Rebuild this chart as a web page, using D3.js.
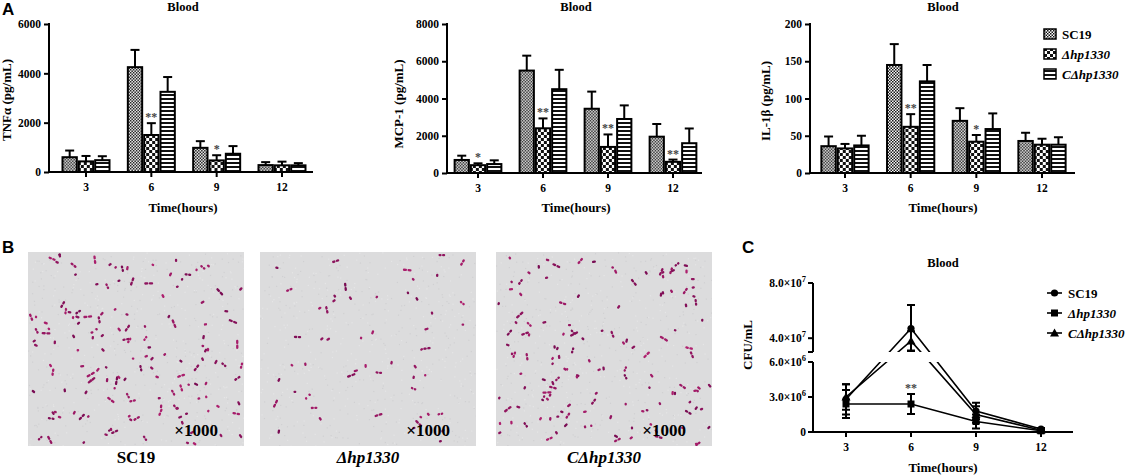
<!DOCTYPE html>
<html><head><meta charset="utf-8">
<script src="https://cdn.jsdelivr.net/npm/d3@7/dist/d3.min.js"></script>
<style>
body{margin:0;background:#fff;}
svg text{font-family:"Liberation Serif","Times New Roman",Times,serif;font-weight:bold;fill:#000;}
svg text.panel{font-family:"Liberation Sans",Arial,sans-serif;font-weight:bold;font-size:17px;}
</style></head>
<body><svg id="fig" width="1135" height="476" font-family="Liberation Serif, serif"></svg>
<script>
// ---------- data ----------
const categories = ["3", "6", "9", "12"];
const seriesNames = ["SC19", "Δhp1330", "CΔhp1330"];

const tnfTicks = [0, 2000, 4000, 6000];
const tnfSC19 = [600, 4250, 980, 280];
const tnfSC19Err = [270, 700, 270, 120];
const tnfDelta = [430, 1500, 470, 270];
const tnfDeltaErr = [220, 480, 210, 150];
const tnfComp = [480, 3250, 740, 270];
const tnfCompErr = [160, 600, 310, 90];
const tnfStars = ["", "**", "*", ""];

const mcpTicks = [0, 2000, 4000, 6000, 8000];
const mcpSC19 = [700, 5500, 3450, 1950];
const mcpSC19Err = [230, 800, 920, 680];
const mcpDelta = [420, 2400, 1400, 600];
const mcpDeltaErr = [100, 530, 670, 120];
const mcpComp = [480, 4500, 2900, 1600];
const mcpCompErr = [200, 1040, 730, 790];
const mcpStars = ["*", "**", "**", "**"];

const ilTicks = [0, 50, 100, 150, 200];
const ilSC19 = [36, 145, 70, 43];
const ilSC19Err = [13, 28, 17, 11];
const ilDelta = [33, 62, 42, 38];
const ilDeltaErr = [6, 17, 9, 8];
const ilComp = [37, 123, 59, 38];
const ilCompErr = [13, 22, 21, 10];
const ilStars = ["", "**", "*", ""];

const cfuSC19 = [2.8e6, 4.7e7, 1.8e6, 2.5e5];
const cfuSC19Err = [1.3e6, 1.7e7, 0.7e6, 1.0e5];
const cfuDelta = [2.4e6, 2.4e6, 0.9e6, 1.0e5];
const cfuDeltaErr = [1.2e6, 0.85e6, 0.6e6, 0.5e5];
const cfuComp = [3.0e6, 3.8e7, 1.5e6, 1.5e5];
const cfuCompErr = [1.1e6, 0.7e7, 0.7e6, 0.8e5];
const cfuStars = ["", "**", "", ""];
const cfuLowTicks = [0, 3e6, 6e6];
const cfuLowLabels = [["0", ""], ["3.0×10", "6"], ["6.0×10", "6"]];
const cfuHighTicks = [4e7, 8e7];
const cfuHighLabels = [["4.0×10", "7"], ["8.0×10", "7"]];

const imageLabels = ["SC19", "Δhp1330", "CΔhp1330"];
const cellCounts = [150, 55, 140];
const magnification = "×1000";

// ---------- drawing ----------
const SERIF = '"Liberation Serif","Times New Roman",Times,serif';
const svg = d3.select("#fig");
const defs = svg.append("defs");

const p1 = defs.append("pattern").attr("id", "pSC19").attr("patternUnits", "userSpaceOnUse").attr("width", 3).attr("height", 3);
p1.append("rect").attr("width", 3).attr("height", 3).attr("fill", "#fff");
p1.append("rect").attr("width", 1.5).attr("height", 1.5).attr("fill", "#111");
p1.append("rect").attr("x", 1.5).attr("y", 1.5).attr("width", 1.5).attr("height", 1.5).attr("fill", "#111");
const p2 = defs.append("pattern").attr("id", "pDelta").attr("patternUnits", "userSpaceOnUse").attr("width", 6).attr("height", 6);
p2.append("rect").attr("width", 6).attr("height", 6).attr("fill", "#fff");
p2.append("rect").attr("width", 3).attr("height", 3).attr("fill", "#111");
p2.append("rect").attr("x", 3).attr("y", 3).attr("width", 3).attr("height", 3).attr("fill", "#111");
const p3 = defs.append("pattern").attr("id", "pComp").attr("patternUnits", "userSpaceOnUse").attr("width", 4).attr("height", 4);
p3.append("rect").attr("width", 4).attr("height", 4).attr("fill", "#fff");
p3.append("rect").attr("y", 2).attr("width", 4).attr("height", 2).attr("fill", "#111");
const fills = ["url(#pSC19)", "url(#pDelta)", "url(#pComp)"];

function barChart(cfg) {
  const g = svg.append("g");
  const step = (cfg.cLast - cfg.cFirst) / 3;
  const x = d3.scaleBand().domain(categories)
    .range([cfg.cFirst - step / 2, cfg.cLast + step / 2]).paddingInner(0.25).paddingOuter(0.125);
  const xs = d3.scaleBand().domain(seriesNames).range([0, x.bandwidth()]);
  const y = d3.scaleLinear().domain([0, d3.max(cfg.ticks)]).range([cfg.y0, cfg.yTop]);

  cfg.means.forEach((arr, si) => {
    const errs = cfg.errs[si];
    const sg = g.append("g");
    const bars = sg.selectAll("g").data(categories).join("g")
      .attr("transform", c => `translate(${x(c) + xs(seriesNames[si])},0)`);
    bars.append("line")
      .attr("x1", xs.bandwidth() / 2).attr("x2", xs.bandwidth() / 2)
      .attr("y1", (c, i) => y(arr[i])).attr("y2", (c, i) => y(arr[i] + errs[i]))
      .attr("stroke", "#000").attr("stroke-width", 2);
    bars.append("line")
      .attr("x1", xs.bandwidth() / 2 - 4.5).attr("x2", xs.bandwidth() / 2 + 4.5)
      .attr("y1", (c, i) => y(arr[i] + errs[i])).attr("y2", (c, i) => y(arr[i] + errs[i]))
      .attr("stroke", "#000").attr("stroke-width", 2);
    bars.append("rect")
      .attr("x", 1).attr("width", xs.bandwidth() - 2)
      .attr("y", (c, i) => y(arr[i])).attr("height", (c, i) => y(0) - y(arr[i]))
      .attr("fill", fills[si]).attr("stroke", "#000").attr("stroke-width", 2);
    if (si === 1) {
      bars.append("text").attr("text-anchor", "middle")
        .attr("x", xs.bandwidth() / 2)
        .attr("y", (c, i) => y(arr[i] + errs[i]) - 2)
        .style("font-size", "12px").style("font-weight", "bold").style("fill", "#444")
        .text((c, i) => cfg.stars[i]);
    }
  });

  const ya = g.append("g").attr("transform", `translate(${cfg.axisX},0)`)
    .call(d3.axisLeft(y).tickValues(cfg.ticks).tickSize(5).tickSizeOuter(0).tickPadding(3).tickFormat(d3.format("d")));
  ya.attr("font-family", SERIF);
  ya.select(".domain").remove();
  ya.selectAll("line").attr("stroke-width", 2);
  ya.selectAll("text").style("font-size", "11.5px").style("font-family", SERIF).style("font-weight", "bold");
  g.append("line").attr("x1", cfg.axisX).attr("x2", cfg.axisX).attr("y1", cfg.yTop - 1).attr("y2", cfg.y0 + 1)
    .attr("stroke", "#000").attr("stroke-width", 2);

  const xa = g.append("g").attr("transform", `translate(0,${cfg.y0})`)
    .call(d3.axisBottom(x).tickSize(5).tickSizeOuter(0).tickPadding(6));
  xa.attr("font-family", SERIF);
  xa.select(".domain").remove();
  xa.selectAll("line").attr("stroke-width", 2);
  xa.selectAll("text").style("font-size", "11.5px").style("font-family", SERIF).style("font-weight", "bold");
  g.append("line").attr("x1", cfg.axisX - 1).attr("x2", cfg.axisEnd).attr("y1", cfg.y0).attr("y2", cfg.y0)
    .attr("stroke", "#000").attr("stroke-width", 2);

  g.append("text").attr("x", cfg.titleX).attr("y", 11).attr("text-anchor", "middle").style("font-size", "12.5px").text("Blood");
  g.append("text").attr("x", cfg.titleX).attr("y", 212).attr("text-anchor", "middle").style("font-size", "13px").text("Time(hours)");
  g.append("text").attr("transform", `translate(${cfg.ylabX},${cfg.ylabY}) rotate(-90)`)
    .attr("text-anchor", "middle").style("font-size", "13px").text(cfg.ylabel);
}

barChart({axisX: 49, axisEnd: 313, yTop: 24, y0: 172, cFirst: 86, cLast: 282, ticks: tnfTicks,
  means: [tnfSC19, tnfDelta, tnfComp], errs: [tnfSC19Err, tnfDeltaErr, tnfCompErr], stars: tnfStars,
  ylabel: "TNFα (pg/mL)", ylabX: 11, ylabY: 100, titleX: 183});
barChart({axisX: 447, axisEnd: 702, yTop: 24, y0: 173, cFirst: 478, cLast: 673, ticks: mcpTicks,
  means: [mcpSC19, mcpDelta, mcpComp], errs: [mcpSC19Err, mcpDeltaErr, mcpCompErr], stars: mcpStars,
  ylabel: "MCP-1 (pg/mL)", ylabX: 403, ylabY: 104, titleX: 576});
barChart({axisX: 810, axisEnd: 1075, yTop: 24, y0: 173, cFirst: 845, cLast: 1042, ticks: ilTicks,
  means: [ilSC19, ilDelta, ilComp], errs: [ilSC19Err, ilDeltaErr, ilCompErr], stars: ilStars,
  ylabel: "IL-1β (pg/mL)", ylabX: 770, ylabY: 101, titleX: 943});

const legA = svg.append("g");
seriesNames.forEach((s, i) => {
  const yy = 34 + i * 20;
  legA.append("rect").attr("x", 1044).attr("y", yy - 5).attr("width", 12).attr("height", 10)
    .attr("fill", fills[i]).attr("stroke", "#000").attr("stroke-width", 1.5);
  legA.append("text").attr("x", 1062).attr("y", yy + 4.5).style("font-size", "13px")
    .style("font-style", i === 0 ? "normal" : "italic").text(s);
});

svg.append("text").attr("class", "panel").attr("x", 2).attr("y", 15).text("A");
svg.append("text").attr("class", "panel").attr("x", 2).attr("y", 253).text("B");
svg.append("text").attr("class", "panel").attr("x", 742).attr("y", 253).text("C");

// ---------- panel B micrographs ----------
const imgX = [28, 260, 496];
const imgY = 252, imgW = 216, imgH = 194;
imageLabels.forEach((lab, k) => {
  const g = svg.append("g");
  const cid = "clipImg" + k;
  defs.append("clipPath").attr("id", cid).append("rect")
    .attr("x", imgX[k]).attr("y", imgY).attr("width", imgW).attr("height", imgH);
  g.append("rect").attr("x", imgX[k]).attr("y", imgY).attr("width", imgW).attr("height", imgH).attr("fill", "#dcdcdd");
  const cells = g.append("g").attr("clip-path", `url(#${cid})`);
  const rng = d3.randomLcg(0.137 + k * 0.291);
  for (let i = 0; i < 600; i++) {
    cells.append("rect").attr("x", imgX[k] + rng() * imgW).attr("y", imgY + rng() * imgH)
      .attr("width", 1.2).attr("height", 1.2).attr("fill", rng() < 0.5 ? "#d0d0d2" : "#e5e5e6");
  }
  const col = d3.interpolateRgb("#780b52", "#b0206f");
  for (let i = 0; i < cellCounts[k]; i++) {
    const cx = imgX[k] + 2 + rng() * (imgW - 4);
    const cy = imgY + 2 + rng() * (imgH - 4);
    const ang = rng() * 180;
    const len = 2.6 + rng() * 1.8;
    const c = col(rng());
    const n = rng() < 0.3 ? 2 : 1;
    for (let j = 0; j < n; j++) {
      cells.append("rect").attr("x", -len / 2 + j * (len + 0.4)).attr("y", -1.15)
        .attr("width", len).attr("height", 2.3).attr("rx", 1.1)
        .attr("fill", c)
        .attr("transform", `translate(${cx},${cy}) rotate(${ang})`);
    }
  }
  g.append("text").attr("x", imgX[k] + imgW - 26).attr("y", imgY + 184).attr("text-anchor", "end")
    .style("font-size", "17px").text(magnification);
  g.append("text").attr("x", imgX[k] + imgW / 2).attr("y", 463).attr("text-anchor", "middle")
    .style("font-size", "17px").style("font-style", k === 0 ? "normal" : "italic").text(lab);
});

// ---------- panel C ----------
const gc = svg.append("g");
const cx0 = 813, cxEnd = 1073, cy0 = 432;
const xC = d3.scalePoint().domain(categories).range([846, 1041]);
const yLow = d3.scaleLinear().domain([0, 6e6]).range([cy0, 362]);
const yHigh = d3.scaleLinear().domain([3e7, 8e7]).range([352, 283]);
const yC = v => v <= 6e6 ? yLow(v) : (v >= 3e7 ? yHigh(v) : yLow(6e6) - (v - 6e6) / (3e7 - 6e6) * 10);

const clipC = defs.append("clipPath").attr("id", "clipC");
clipC.append("rect").attr("x", 800).attr("y", 270).attr("width", 300).attr("height", 82);
clipC.append("rect").attr("x", 800).attr("y", 362).attr("width", 300).attr("height", 80);

const cfuMeans = [cfuSC19, cfuDelta, cfuComp];
const cfuErrs = [cfuSC19Err, cfuDeltaErr, cfuCompErr];
const line = d3.line().x((d, i) => xC(categories[i])).y(d => yC(d));
const lines = gc.append("g").attr("clip-path", "url(#clipC)");
cfuMeans.forEach((arr, si) => {
  lines.append("path").attr("d", line(arr)).attr("fill", "none").attr("stroke", "#000").attr("stroke-width", 1.6);
  const errs = cfuErrs[si];
  arr.forEach((v, i) => {
    const xx = xC(categories[i]);
    const lo = Math.max(v - errs[i], 0), hi = v + errs[i];
    lines.append("line").attr("x1", xx).attr("x2", xx).attr("y1", yC(lo)).attr("y2", yC(hi)).attr("stroke", "#000").attr("stroke-width", 2);
    [lo, hi].forEach(e => lines.append("line").attr("x1", xx - 4).attr("x2", xx + 4).attr("y1", yC(e)).attr("y2", yC(e)).attr("stroke", "#000").attr("stroke-width", 2));
  });
});
function marker(g, si, x, y) {
  if (si === 0) g.append("circle").attr("cx", x).attr("cy", y).attr("r", 3.6).attr("fill", "#000");
  else if (si === 1) g.append("rect").attr("x", x - 3.5).attr("y", y - 3.5).attr("width", 7).attr("height", 7).attr("fill", "#000");
  else g.append("path").attr("d", `M${x},${y - 4.5}L${x + 4.5},${y + 3.5}L${x - 4.5},${y + 3.5}Z`).attr("fill", "#000");
}
cfuMeans.forEach((arr, si) => arr.forEach((v, i) => marker(lines, si, xC(categories[i]), yC(v))));
cfuStars.forEach((s, i) => {
  if (!s) return;
  const v = cfuDelta[i] + cfuDeltaErr[i];
  gc.append("text").attr("x", xC(categories[i])).attr("y", yC(v) - 2).attr("text-anchor", "middle")
    .style("font-size", "12px").style("fill", "#444").text(s);
});

const ax = (x1, y1, x2, y2) => gc.append("line").attr("x1", x1).attr("y1", y1).attr("x2", x2).attr("y2", y2).attr("stroke", "#000").attr("stroke-width", 2);
ax(cx0, 283, cx0, 352);
ax(cx0, 362, cx0, cy0 + 1);
ax(cx0 - 1, cy0, cxEnd, cy0);
ax(cx0 - 5, 352, cx0, 352);
function yTickLabel(yy, lab) {
  ax(cx0 - 5, yy, cx0, yy);
  const t = gc.append("text").attr("x", cx0 - 7).attr("y", yy + 4).attr("text-anchor", "end").style("font-size", "11.5px");
  t.append("tspan").text(lab[0]);
  if (lab[1]) t.append("tspan").attr("dy", -5).style("font-size", "8.5px").text(lab[1]);
}
cfuLowTicks.forEach((v, i) => yTickLabel(yLow(v), cfuLowLabels[i]));
cfuHighTicks.forEach((v, i) => yTickLabel(yHigh(v), cfuHighLabels[i]));
categories.forEach(c => {
  ax(xC(c), cy0, xC(c), cy0 + 5);
  gc.append("text").attr("x", xC(c)).attr("y", cy0 + 19).attr("text-anchor", "middle").style("font-size", "11.5px").text(c);
});
gc.append("text").attr("x", 943).attr("y", 267).attr("text-anchor", "middle").style("font-size", "12.5px").text("Blood");
gc.append("text").attr("x", 943).attr("y", 472).attr("text-anchor", "middle").style("font-size", "13px").text("Time(hours)");
gc.append("text").attr("transform", "translate(752,345) rotate(-90)").attr("text-anchor", "middle").style("font-size", "13px").text("CFU/mL");

seriesNames.forEach((s, i) => {
  const yy = 293 + i * 20;
  gc.append("line").attr("x1", 1047).attr("x2", 1062).attr("y1", yy).attr("y2", yy).attr("stroke", "#000").attr("stroke-width", 1.6);
  marker(gc, i, 1054.5, yy);
  gc.append("text").attr("x", 1068).attr("y", yy + 4.5).style("font-size", "13px")
    .style("font-style", i === 0 ? "normal" : "italic").text(s);
});
</script></body></html>
